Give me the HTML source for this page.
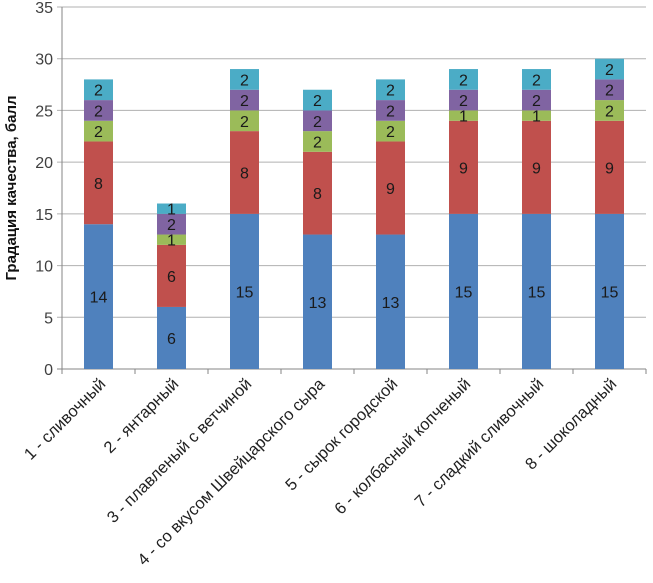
<!DOCTYPE html>
<html><head><meta charset="utf-8"><style>
html,body{margin:0;padding:0;background:#fff;}
svg{display:block;font-family:"Liberation Sans",sans-serif;}
</style></head><body>
<svg id="chart" width="653" height="583"></svg>
<script>
const categories=["1 - сливочный","2 - янтарный","3 - плавленый с ветчиной","4 - со вкусом Швейцарского сыра","5 - сырок городской","6 - колбасный копченый","7 -  сладкий сливочный","8 - шоколадный"];
const series1=[14,6,15,13,13,15,15,15];
const series2=[8,6,8,8,9,9,9,9];
const series3=[2,1,2,2,2,1,1,2];
const series4=[2,2,2,2,2,2,2,2];
const series5=[2,1,2,2,2,2,2,2];
const yTicks=[0,5,10,15,20,25,30,35];
const colors=["#4F81BD","#C0504D","#9BBB59","#8064A2","#4BACC6"];
const NS="http://www.w3.org/2000/svg";
const svg=document.getElementById("chart");
const x0=62,x1=646,y0=369,y1=7,yMax=35;
const cw=(x1-x0)/categories.length,bw=29;
function y(v){return y0-(v/yMax)*(y0-y1);}
function xc(i){return x0+cw*(i+0.5);}
function mk(t,a){const e=document.createElementNS(NS,t);for(const k in a)e.setAttribute(k,a[k]);svg.appendChild(e);return e;}
yTicks.forEach(t=>{
 const g=mk("line",{x1:x0-5,x2:x1,y1:y(t),y2:y(t),stroke:t===0?"#868686":"#b0b0b0","stroke-width":1});
 
 
 const l=mk("text",{x:x0-9,y:y(t)+6,"text-anchor":"end","font-size":16,fill:"#404040"});
 l.textContent=t;
 
 
});
const ax=mk("line",{x1:x0,x2:x0,y1:y1,y2:y0,stroke:"#868686"});


for(let i=0;i<=categories.length;i++){
 const t=mk("line",{x1:x0+cw*i,x2:x0+cw*i,y1:y0,y2:y0+5,stroke:"#868686"});
 
 
}
const all=[series1,series2,series3,series4,series5];
categories.forEach((c,i)=>{
 let acc=0;
 all.forEach((s,j)=>{
  const v=s[i];
  const r=mk("rect",{x:xc(i)-bw/2,y:y(acc+v),width:bw,height:y(acc)-y(acc+v),fill:colors[j]});
  
  
  const tx=mk("text",{x:xc(i),y:(y(acc)+y(acc+v))/2+6,"text-anchor":"middle","font-size":16,fill:"#1a1a1a"});
  tx.textContent=v;
  
  
  acc+=v;
 });
 const lx=xc(i)+8,ly=y0+16;
 const lab=mk("text",{x:lx,y:ly,"text-anchor":"end","font-size":16.5,fill:"#222",transform:`rotate(-45 ${lx} ${ly})`});
 lab.textContent=c;
 
 
});
const yt=mk("text",{x:16,y:188,"text-anchor":"middle","font-size":15,"font-weight":"bold",fill:"#111",transform:"rotate(-90 16 188)"});
yt.textContent="Градация качества, балл";


</script>
</body></html>
